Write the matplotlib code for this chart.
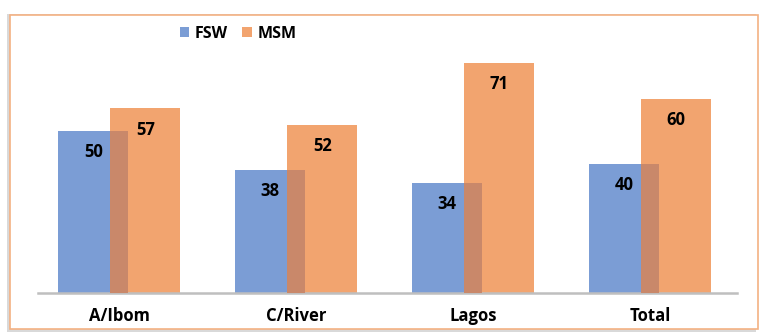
import matplotlib
matplotlib.use("Agg")
import matplotlib.pyplot as plt
from matplotlib.patches import Rectangle
import numpy as np

categories = ["A/Ibom", "C/River", "Lagos", "Total"]
fsw = [50, 38, 34, 40]
msm = [57, 52, 71, 60]

plt.rcParams['font.family'] = ['Open Sans', 'DejaVu Sans']

fig = plt.figure(figsize=(7.68, 3.35), dpi=100)

# outer frame with a soft shadow
shadow = Rectangle((7 / 768, 1 - 332 / 335), 749 / 768, 318 / 335, transform=fig.transFigure,
                   facecolor="#d9d9d9", edgecolor="none", zorder=-2)
fig.patches.append(shadow)
frame = Rectangle((10 / 768, 1 - 329 / 335), 748 / 768, 314 / 335, transform=fig.transFigure,
                  facecolor="white", edgecolor="#f4b183", linewidth=1.2, zorder=-1)
fig.patches.append(frame)

ax = fig.add_axes([38 / 768, 42 / 335, 699 / 768, 0.773])
ax.patch.set_alpha(0)

x = np.arange(len(categories))
off = 0.147
w = 0.395
blue = "#7b9dd5"
orange = "#f2a46f"
overlap = "#c9886a"

b1 = ax.bar(x - off, fsw, w, color=blue, label="FSW", zorder=2)
b2 = ax.bar(x + off, msm, w, color=orange, label="MSM", zorder=2)
# shaded part where the two bars overlap
ax.bar(x, np.minimum(fsw, msm), 2 * (w / 2 - off), color=overlap, zorder=3)

for xi, v in zip(x, fsw):
    ax.text(xi - off, v - 6.5, str(v), ha="center", va="center", fontsize=12, fontweight="bold", zorder=4)
for xi, v in zip(x + off, msm):
    ax.text(xi, v - 6.5, str(v), ha="center", va="center", fontsize=12, fontweight="bold", zorder=4)

ax.set_xlim(-0.46, 3.49)
ax.set_ylim(0, 80)
ax.set_xticks(x)
ax.set_xticklabels(categories, fontsize=12, fontweight="bold")
ax.tick_params(axis="x", length=0, pad=10)
ax.set_yticks([])
for s in ["top", "right", "left"]:
    ax.spines[s].set_visible(False)
ax.spines["bottom"].set_color("#bfbfbf")
ax.spines["bottom"].set_linewidth(1.8)

leg = ax.legend(handles=[b1, b2], loc="center", bbox_to_anchor=(238 / 768, 1 - 34 / 335),
                bbox_transform=fig.transFigure, ncol=2, frameon=False,
                prop={"weight": "bold", "size": 11.5}, handlelength=0.6, handleheight=0.6,
                handletextpad=0.35, columnspacing=0.9)

fig.savefig("out.png", dpi=100)
